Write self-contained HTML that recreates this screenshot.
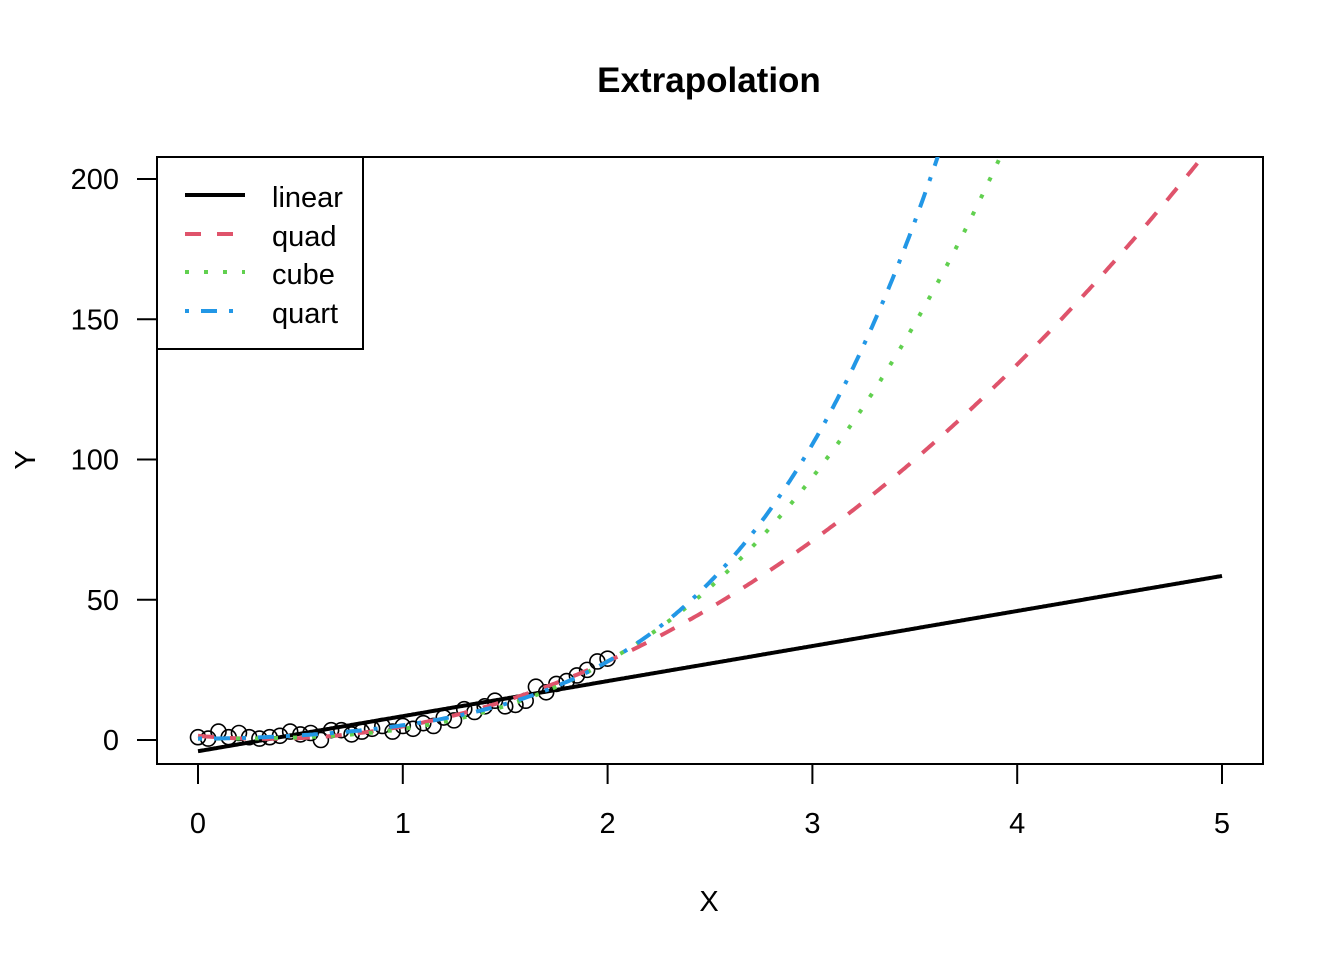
<!DOCTYPE html>
<html><head><meta charset="utf-8"><style>
html,body{margin:0;padding:0;background:#fff;}
svg{display:block;font-family:"Liberation Sans",Arial,sans-serif;}
</style></head><body>
<svg id="chart" width="1344" height="960" viewBox="0 0 1344 960" xmlns="http://www.w3.org/2000/svg">
<defs><clipPath id="pc"><rect x="157" y="157" width="1106" height="607"/></clipPath></defs>
<text x="709" y="92" text-anchor="middle" font-size="35" font-weight="bold">Extrapolation</text>
<rect x="157" y="157" width="1106" height="607" fill="none" stroke="#000" stroke-width="2"/>
<text x="709" y="911" text-anchor="middle" font-size="29">X</text>
<text transform="translate(35,460) rotate(-90)" text-anchor="middle" font-size="29">Y</text>
<g id="axes"></g>
<g id="pts"></g>
<g id="marks" clip-path="url(#pc)"></g>
<g>
<rect x="157" y="157" width="206" height="192" fill="#fff" stroke="#000" stroke-width="2"/>
<line x1="185" y1="195" x2="245" y2="195" stroke="#000" stroke-width="4"/>
<text x="272" y="207" font-size="29">linear</text>
<line x1="185" y1="234" x2="245" y2="234" stroke="#DF536B" stroke-width="4" stroke-dasharray="16,16"/>
<text x="272" y="246" font-size="29">quad</text>
<line x1="185" y1="272" x2="245" y2="272" stroke="#61D04F" stroke-width="4" stroke-dasharray="4,15"/>
<text x="272" y="284" font-size="29">cube</text>
<line x1="185" y1="311" x2="245" y2="311" stroke="#2297E6" stroke-width="4" stroke-dasharray="4,12,16,12"/>
<text x="272" y="323" font-size="29">quart</text>
</g>
</svg>
<script>
const xTicks=[0,1,2,3,4,5];
const yTicks=[0,50,100,150,200];
const ptY=[1,0.5,3,1,2.5,1,0.5,1,1.5,3,2,2.5,0,3.5,3.5,2,3,4,5,3,5,4,6,5,8,7,11,10,12,14,12,12.5,14,19,17,20,21,23,25,28,29];
const ptX=ptY.map((_,i)=>i*0.05);
const linearCoef=[-4,12.5];
const quadCoef=[1.5,-6.58,9.92];
const cubeCoef=[0.5,0,0,3.45];
const quartCoef=[0.5,0,5.3,-1.87,1.33];
const sx=v=>198+v*204.8;
const sy=v=>740-v*2.805;
const NS='http://www.w3.org/2000/svg';
function mk(tag,attrs,parent){const e=document.createElementNS(NS,tag);for(const k in attrs)e.setAttribute(k,attrs[k]);parent.appendChild(e);return e;}
const axes=document.getElementById('axes');
const xa=mk('line',{x1:sx(0),y1:764,x2:sx(5),y2:764,stroke:'#000','stroke-width':2},axes);


xTicks.forEach(t=>{
 const l=mk('line',{x1:sx(t),y1:764,x2:sx(t),y2:784,stroke:'#000','stroke-width':2},axes);
 
 
 const tx=mk('text',{x:sx(t),y:833,'text-anchor':'middle','font-size':29},axes);tx.textContent=t;
 
 
});
const ya=mk('line',{x1:157,y1:sy(0),x2:157,y2:sy(200),stroke:'#000','stroke-width':2},axes);


yTicks.forEach(t=>{
 const l=mk('line',{x1:137,y1:sy(t),x2:157,y2:sy(t),stroke:'#000','stroke-width':2},axes);
 
 
 const tx=mk('text',{x:119,y:sy(t)+10,'text-anchor':'end','font-size':29},axes);tx.textContent=t;
 
 
});
const pg=document.getElementById('pts');
ptX.forEach((x,i)=>{
 const c=mk('circle',{cx:sx(x),cy:sy(ptY[i]),r:7.5,fill:'none',stroke:'#000','stroke-width':1.6},pg);
 
 
});
const marks=document.getElementById('marks');
function poly(c,x){let s=0;for(let k=0;k<c.length;k++)s+=c[k]*Math.pow(x,k);return s;}
function curve(coef,name,stroke,dash){
 let d='';for(let i=0;i<=500;i++){const x=i/100;d+=(i?'L':'M')+sx(x).toFixed(1)+','+sy(poly(coef,x)).toFixed(1);}
 const p=mk('path',{d:d,fill:'none',stroke:stroke,'stroke-width':4,'stroke-dasharray':dash},marks);
 
 
}
curve(linearCoef,'linear-line','#000','none');
curve(quadCoef,'quad-line','#DF536B','16,16');
curve(cubeCoef,'cube-line','#61D04F','4,15');
curve(quartCoef,'quart-line','#2297E6','4,12,16,12');
</script>
</body></html>
